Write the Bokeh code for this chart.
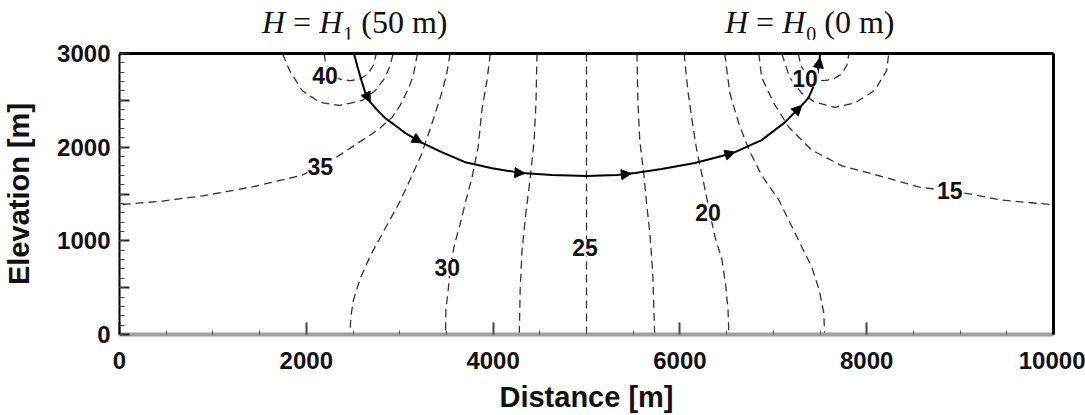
from bokeh.plotting import figure
from bokeh.models import (Range1d, FixedTicker, ColumnDataSource, LabelSet,
                          Arrow, NormalHead, LinearAxis, Div)
from bokeh.layouts import column
from bokeh.core.properties import value
from bokeh.embed import file_html
from bokeh.resources import INLINE
import numpy as np

# ---------------- data (distance [m], elevation [m]) ----------------
c40_x = [2190, 2210, 2270, 2360, 2470, 2570, 2660, 2720, 2750]
c40_y = [3000, 2880, 2780, 2725, 2710, 2725, 2780, 2880, 3000]

c375_x = [1745, 1820, 1955, 2140, 2355, 2600, 2740, 2845, 2900, 2930]
c375_y = [3000, 2820, 2605, 2480, 2445, 2500, 2605, 2745, 2880, 3000]

c35_x = [3190, 3145, 3100, 3005, 2920, 2760, 2600, 2440, 2310, 2150, 1955, 1420, 890, 460, 0]
c35_y = [3000, 2765, 2640, 2445, 2320, 2180, 2075, 1970, 1885, 1800, 1700, 1575, 1480, 1425, 1385]

c325_x = [3540, 3500, 3435, 3340, 3230, 3110, 2995, 2835, 2685, 2580, 2505, 2475, 2470]
c325_y = [3000, 2765, 2530, 2235, 1915, 1650, 1405, 1115, 840, 605, 370, 180, 0]

c30_x = [3970, 3935, 3880, 3840, 3775, 3710, 3645, 3585, 3540, 3520, 3495, 3490]
c30_y = [3000, 2715, 2395, 2000, 1680, 1435, 1170, 955, 715, 480, 265, 0]

c275_x = [4470, 4460, 4440, 4395, 4355, 4310, 4290, 4280]
c275_y = [3000, 2500, 2075, 1650, 1330, 905, 480, 0]

c25_x = [5000, 5000]
c25_y = [3000, 0]

c225_x = [5540, 5550, 5570, 5615, 5645, 5680, 5710, 5730]
c225_y = [3000, 2500, 2075, 1700, 1385, 1065, 640, 0]

c20_x = [6045, 6085, 6130, 6180, 6255, 6320, 6375, 6450, 6490, 6515, 6525]
c20_y = [3000, 2605, 2285, 1970, 1615, 1300, 1045, 800, 530, 265, 0]

c175_x = [6480, 6535, 6630, 6740, 6875, 7060, 7200, 7305, 7410, 7490, 7540, 7550]
c175_y = [3000, 2575, 2255, 1970, 1700, 1435, 1150, 935, 725, 480, 235, 0]

c15_x = [6845, 6875, 7005, 7165, 7410, 7735, 8190, 8555, 8890, 9050, 9445, 10000]
c15_y = [3000, 2745, 2470, 2215, 1970, 1800, 1680, 1575, 1530, 1510, 1435, 1385]

c125_x = [7090, 7175, 7305, 7445, 7660, 7870, 8085, 8215, 8235]
c125_y = [3000, 2745, 2575, 2480, 2425, 2470, 2605, 2820, 3000]

c10_x = [7270, 7290, 7350, 7440, 7540, 7640, 7730, 7790, 7810]
c10_y = [3000, 2880, 2780, 2725, 2710, 2725, 2780, 2880, 3000]

flow_x = [2510, 2545, 2590, 2630, 2685, 2760, 2845, 2975, 3060, 3240, 3455, 3700, 3990, 4310,
          4630, 5000, 5325, 5520, 5805, 6160, 6450, 6590, 6875, 7125, 7305, 7380, 7435, 7475,
          7495, 7500]
flow_y = [3000, 2870, 2715, 2585, 2480, 2395, 2310, 2215, 2150, 2045, 1945, 1840, 1775, 1723,
          1702, 1691, 1702, 1723, 1766, 1830, 1905, 1947, 2075, 2265, 2447, 2532, 2660, 2798,
          2925, 3000]

arrow_x = [2685, 3240, 4340, 5480, 6590, 7305, 7500]
arrow_y = [2480, 2045, 1721, 1718, 1947, 2447, 2955]

label_text = ["40", "35", "30", "25", "20", "15", "10"]
label_x = [2200, 2150, 3510, 4985, 6300, 8890, 7340]
label_y = [2770, 1790, 715, 925, 1300, 1535, 2735]

x_ticks = [0, 2000, 4000, 6000, 8000, 10000]
y_ticks = [0, 500, 1000, 1500, 2000, 2500, 3000]

# boundary-condition captions above the plot
cap_sub = ["1", "0"]
cap_val = ["(50 m)", "(0 m)"]
cap_left = [262, 725]          # px from the left edge of the page

W = 1085
CAP_H = 39

# ---------------- caption strip (HTML text) ----------------
spans = []
for left, sub, val in zip(cap_left, cap_sub, cap_val):
    spans.append(
        f'<span style="position:absolute;left:{left}px;top:6px;line-height:32px;white-space:nowrap">'
        f'<i>H</i>&nbsp;=&nbsp;<i>H</i>'
        f'<span style="font-size:20px;position:relative;top:8px;margin-left:1px">{sub}</span>'
        f'&nbsp;{val}</span>')
cap_html = (f'<div style="position:relative;width:{W}px;height:{CAP_H}px;'
            "font-family:'Liberation Serif';font-size:32px;color:#111111\">"
            + "".join(spans) + "</div>")
caption = Div(text=cap_html, width=W, height=CAP_H, margin=0)

# ---------------- main figure ----------------
p = figure(width=W, height=415 - CAP_H, output_backend="svg", toolbar_location=None, title=None,
           x_range=Range1d(0, 10000), y_range=Range1d(0, 3000),
           min_border_left=117, min_border_right=32, min_border_top=53 - CAP_H,
           min_border_bottom=80)
p.xgrid.visible = False
p.ygrid.visible = False
p.outline_line_color = None

contours = [(c40_x, c40_y), (c375_x, c375_y), (c35_x, c35_y), (c325_x, c325_y),
            (c30_x, c30_y), (c275_x, c275_y), (c25_x, c25_y), (c225_x, c225_y),
            (c20_x, c20_y), (c175_x, c175_y), (c15_x, c15_y), (c125_x, c125_y),
            (c10_x, c10_y)]
for cx, cy in contours:
    p.line(cx, cy, line_color="#333333", line_width=1.3, line_dash="8 5")

p.line(flow_x, flow_y, line_color="black", line_width=2)

fx = np.array(flow_x)
fy = np.array(flow_y)
idx = np.searchsorted(fx, np.array(arrow_x), side="left")
idx = np.clip(idx - 1, 0, len(fx) - 1)
asrc = ColumnDataSource(dict(xs=fx[idx], ys=fy[idx], xe=arrow_x, ye=arrow_y))
p.add_layout(Arrow(end=NormalHead(size=10, fill_color="black", line_color="black", line_width=1),
                   x_start="xs", y_start="ys", x_end="xe", y_end="ye", source=asrc,
                   line_alpha=0, line_width=0))

lsrc = ColumnDataSource(dict(x=label_x, y=label_y, t=label_text))
p.add_layout(LabelSet(x="x", y="y", text="t", source=lsrc, text_align="center",
                      text_baseline="middle", text_font=value("Liberation Sans"),
                      text_font_style="bold", text_font_size="23px", text_color="#111111",
                      background_fill_color="white"))

# axes
xa = p.xaxis[0]
xa.ticker = FixedTicker(ticks=x_ticks, minor_ticks=list(range(0, 10001, 500)))
xa.axis_label = "Distance [m]"
ya = p.yaxis[0]
ya.ticker = FixedTicker(ticks=y_ticks, minor_ticks=list(range(0, 3001, 100)))
ya.major_label_overrides = {500: "", 1500: "", 2500: ""}
ya.axis_label = "Elevation [m]"

for ax in (xa, ya):
    ax.major_tick_out = 0
    ax.minor_tick_out = 0
    ax.major_label_text_font = "Liberation Sans"
    ax.major_label_text_font_style = "bold"
    ax.major_label_text_font_size = "24px"
    ax.major_label_text_color = "#111111"
    ax.axis_label_text_font = "Liberation Sans"
    ax.axis_label_text_font_style = "bold"
    ax.axis_label_text_font_size = "29px"
    ax.axis_label_text_color = "#111111"

xa.major_tick_in = 12
xa.minor_tick_in = 4
xa.axis_line_color = "#a0a0a0"
xa.axis_line_width = 4
xa.major_tick_line_color = "#444444"
xa.major_tick_line_width = 2
xa.minor_tick_line_color = "#555555"
xa.major_label_standoff = 17
xa.axis_label_standoff = 9

ya.major_tick_in = 10
ya.minor_tick_in = 5
ya.axis_line_color = "black"
ya.axis_line_width = 2
ya.major_tick_line_color = "#222222"
ya.major_tick_line_width = 2
ya.minor_tick_line_color = "#444444"
ya.major_label_standoff = 9
ya.axis_label_standoff = 19

for side in ("above", "right"):
    b = LinearAxis(ticker=FixedTicker(ticks=[]), axis_line_color="black", axis_line_width=3,
                   major_tick_line_color=None, minor_tick_line_color=None,
                   major_label_text_font_size="0px")
    p.add_layout(b, side)

layout = column(caption, p, spacing=0)
open("out.html", "w").write(file_html(layout, INLINE))
